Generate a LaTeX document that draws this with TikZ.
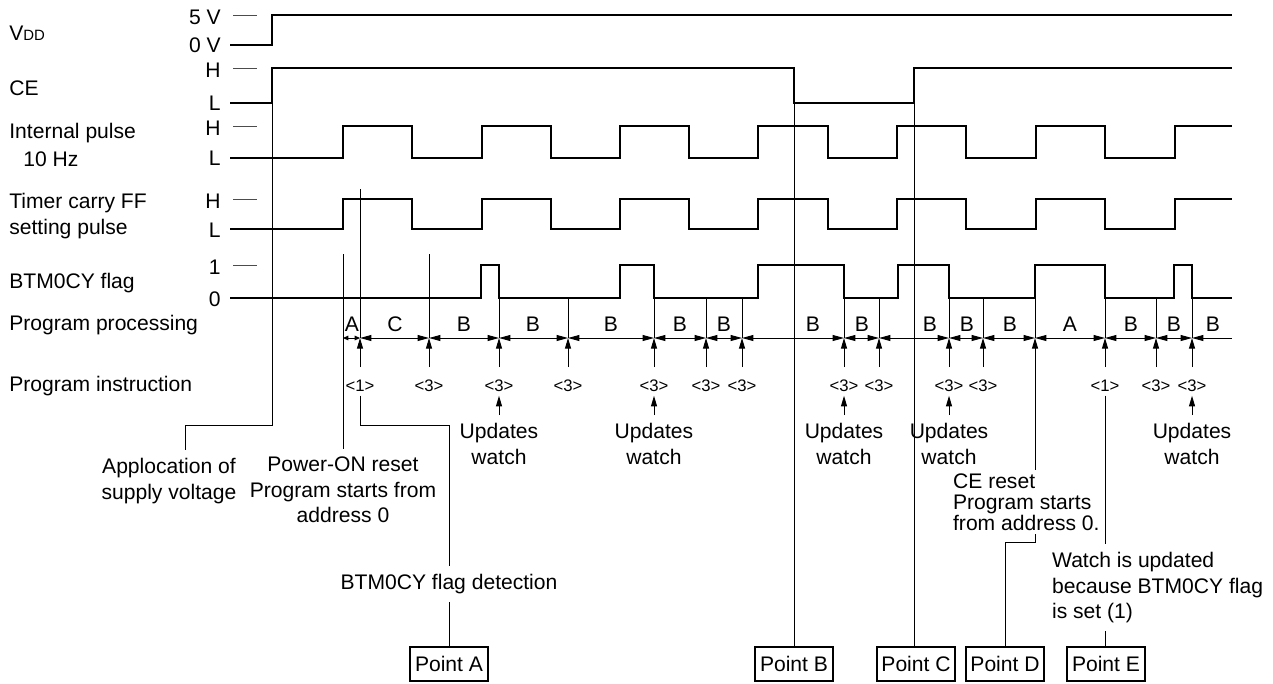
\documentclass[tikz,border=0pt]{standalone}
\usepackage{fontspec}
\setmainfont{Liberation Sans}
\usetikzlibrary{arrows.meta,positioning}

\begin{document}
\begin{tikzpicture}[x=0.02cm, y=-0.02cm,
  wave/.style={line width=1.5pt},
  lead/.style={line width=0.55pt},
  tick/.style={line width=0.45pt, black!70},
  txt/.style={font=\fontsize{12}{14.5}\selectfont, inner sep=0pt},
  sig/.style={txt, anchor=west},
  lvl/.style={txt, anchor=east},
  instr/.style={font=\fontsize{9.5}{11}\selectfont, inner xsep=0pt, inner ysep=2pt},
  note/.style={txt, align=center, inner xsep=1pt, inner ysep=4.5pt},
  point/.style={draw, line width=1.5pt, minimum width=1.56cm, minimum height=0.68cm, inner sep=0pt, font=\fontsize{12}{14}\selectfont},
  dim/.style={lead, {Triangle[length=6.5pt,width=3.4pt]}-{Triangle[length=6.5pt,width=3.4pt]}},
  dimsmall/.style={lead, {Triangle[length=3pt,width=2.6pt]}-{Triangle[length=3pt,width=2.6pt]}},
  up/.style={lead, -{Triangle[length=6pt,width=3.4pt]}}
]
\useasboundingbox (0,0) rectangle (1273,683);

% Signal names
\node[sig] (vdd) at (9,33) {V{\fontsize{8.5}{8.5}\selectfont DD}};
\node[sig] (ce) at (9,88) {CE};
\node[sig] (ipulse) at (9,133) {Internal pulse};
\node[sig] (ipulse2) at (23,159) {10 Hz};
\node[sig] (tcff) at (9,203) {Timer carry FF};
\node[sig] (tcff2) at (9,229) {setting pulse};
\node[sig] (flag) at (9,283) {BTM0CY flag};
\node[sig] (pproc) at (9,325) {Program processing};
\node[sig] (pinstr) at (9,386) {Program instruction};

% Levels
\node[lvl] (l5v) at (221,17) {5 V};
\node[lvl] (l0v) at (221,45) {0 V};
\node[lvl] (lceh) at (221,70) {H};
\node[lvl] (lcel) at (221,103) {L};
\node[lvl] (liph) at (221,128) {H};
\node[lvl] (lipl) at (221,158) {L};
\node[lvl] (ltch) at (221,201) {H};
\node[lvl] (ltcl) at (221,230) {L};
\node[lvl] (lf1) at (221,267) {1};
\node[lvl] (lf0) at (221,299) {0};
\foreach \y in {15,68,126,199,265}
  \draw[tick] (233,\y) -- (257,\y);

% Waveforms
\draw[wave] (230,45) -- (272,45) -- (272,15) -- (1232,15);
\draw[wave] (230,103) -- (272,103) -- (272,68) -- (794,68) -- (794,103) -- (914,103) -- (914,68) -- (1232,68);
\draw[wave] (230,158) -- (343,158) -- (343,126) -- (412,126) -- (412,158) -- (482,158) -- (482,126)
  -- (551,126) -- (551,158) -- (620,158) -- (620,126) -- (689,126) -- (689,158) -- (758,158) -- (758,126)
  -- (828,126) -- (828,158) -- (897,158) -- (897,126) -- (966,126) -- (966,158) -- (1036,158) -- (1036,126)
  -- (1105,126) -- (1105,158) -- (1175,158) -- (1175,126) -- (1232,126);
\draw[wave] (230,229) -- (343,229) -- (343,199) -- (412,199) -- (412,229) -- (482,229) -- (482,199)
  -- (551,199) -- (551,229) -- (620,229) -- (620,199) -- (689,199) -- (689,229) -- (758,229) -- (758,199)
  -- (828,199) -- (828,229) -- (897,229) -- (897,199) -- (966,199) -- (966,229) -- (1036,229) -- (1036,199)
  -- (1105,199) -- (1105,229) -- (1175,229) -- (1175,199) -- (1232,199);
\draw[wave] (230,298) -- (481,298) -- (481,265) -- (499,265) -- (499,298) -- (620,298) -- (620,265)
  -- (654,265) -- (654,298) -- (758,298) -- (758,265) -- (844,265) -- (844,298) -- (898,298) -- (898,265)
  -- (949,265) -- (949,298) -- (1035,298) -- (1035,265) -- (1105,265) -- (1105,298) -- (1174,298)
  -- (1174,265) -- (1192,265) -- (1192,298) -- (1232,298);

% Program processing
\foreach \x in {343,360,429,499,568,654,706,742,844,879,949,983,1035,1105,1156,1192}
  \coordinate (b\x) at (\x,338);
\coordinate (bend) at (1232,338);
\draw[dimsmall] (b343) -- (b360);
\foreach \a/\b in {360/429,429/499,499/568,568/654,654/706,706/742,742/844,844/879,879/949,949/983,983/1035,1035/1105,1105/1156,1156/1192}
  \draw[dim] (b\a) -- (b\b);
\draw[lead, {Triangle[length=6.5pt,width=3.4pt]}-] (b1192) -- (bend);
\foreach \x/\t in {352/A,395/C,464/B,533/B,611/B,680/B,724/B,813/B,862/B,930/B,967/B,1010/B,1070/A,1131/B,1174/B,1213/B}
  \node[txt] (s\x) at (\x,324) {\t};

\coordinate (porstart) at (343,254);
\coordinate (ffstart) at (360,189);
\coordinate (cstart) at (429,254);
\draw[lead] (ffstart) -- (b360);
\draw[lead] (cstart) -- (b429);
\foreach \x in {499,568,654,706,742,844,879,949,983,1035,1105,1156,1192}
  \draw[lead] (\x,298) -- (b\x);

% Program instruction
\foreach \x in {360,429,499,568,654,706,742,844,879,949,983,1105,1156,1192}
  \draw[up] (\x,367) -- (b\x);
\foreach \x/\t in {360/1,429/3,499/3,568/3,654/3,706/3,742/3,844/3,879/3,949/3,983/3,1105/1,1156/3,1192/3}
  \node[instr] (i\x) at (\x,386) {<\t>};
\foreach \x in {499,654,844,949,1192} {
  \node[note, anchor=north] (upd\x) at (\x,415) {Updates\\watch};
  \draw[up] (upd\x.north) -- (i\x.south);
}

% Points
\node[point] (pA) at (449,664) {Point A};
\node[point] (pB) at (794,664) {Point B};
\node[point] (pC) at (916,664) {Point C};
\node[point] (pD) at (1005,664) {Point D};
\node[point] (pE) at (1106,664) {Point E};

% Notes
\node[note, anchor=north] (supply) at (169,450) {Applocation of\\supply voltage};
\node[note, anchor=north] (poweron) at (343,449) {Power-ON reset\\Program starts from\\address 0};
\node[note, anchor=north] (detect) at (449,566) {BTM0CY flag detection};
\node[note, anchor=north west, align=left] (setnote) at (1050,544) {Watch is updated\\because BTM0CY flag\\is set (1)};

\coordinate (vddrise) at (272,103);
\coordinate (supknee) at (185,425);
\coordinate (detknee) at (449,425);
\coordinate (cebfall) at (794,103);
\coordinate (cecrise) at (914,103);
\coordinate (dknee) at (1035,542);
\draw[lead] (vddrise) |- (supknee) -- (supknee |- supply.north);
\draw[lead] (porstart) -- (poweron.north);
\draw[lead] (i360.south) |- (detknee) -- (detect.north);
\draw[lead] (detect.south) -- (pA.north);
\draw[lead] (cebfall) -- (pB.north);
\draw[lead] (cecrise) -- (cecrise |- pC.north);
\draw[up] (pD.north) |- (dknee) -- (b1035);
\draw[lead] (i1105.south) -- (i1105 |- setnote.north);
\draw[lead] (i1105 |- setnote.south) -- (i1105 |- pE.north);
\node[txt, anchor=north west, align=left, fill=white, inner xsep=1pt, inner ysep=2pt, font=\fontsize{12}{12}\selectfont] (cenote) at (951,470) {CE reset\\Program starts\\from address 0.};

\end{tikzpicture}
\end{document}
